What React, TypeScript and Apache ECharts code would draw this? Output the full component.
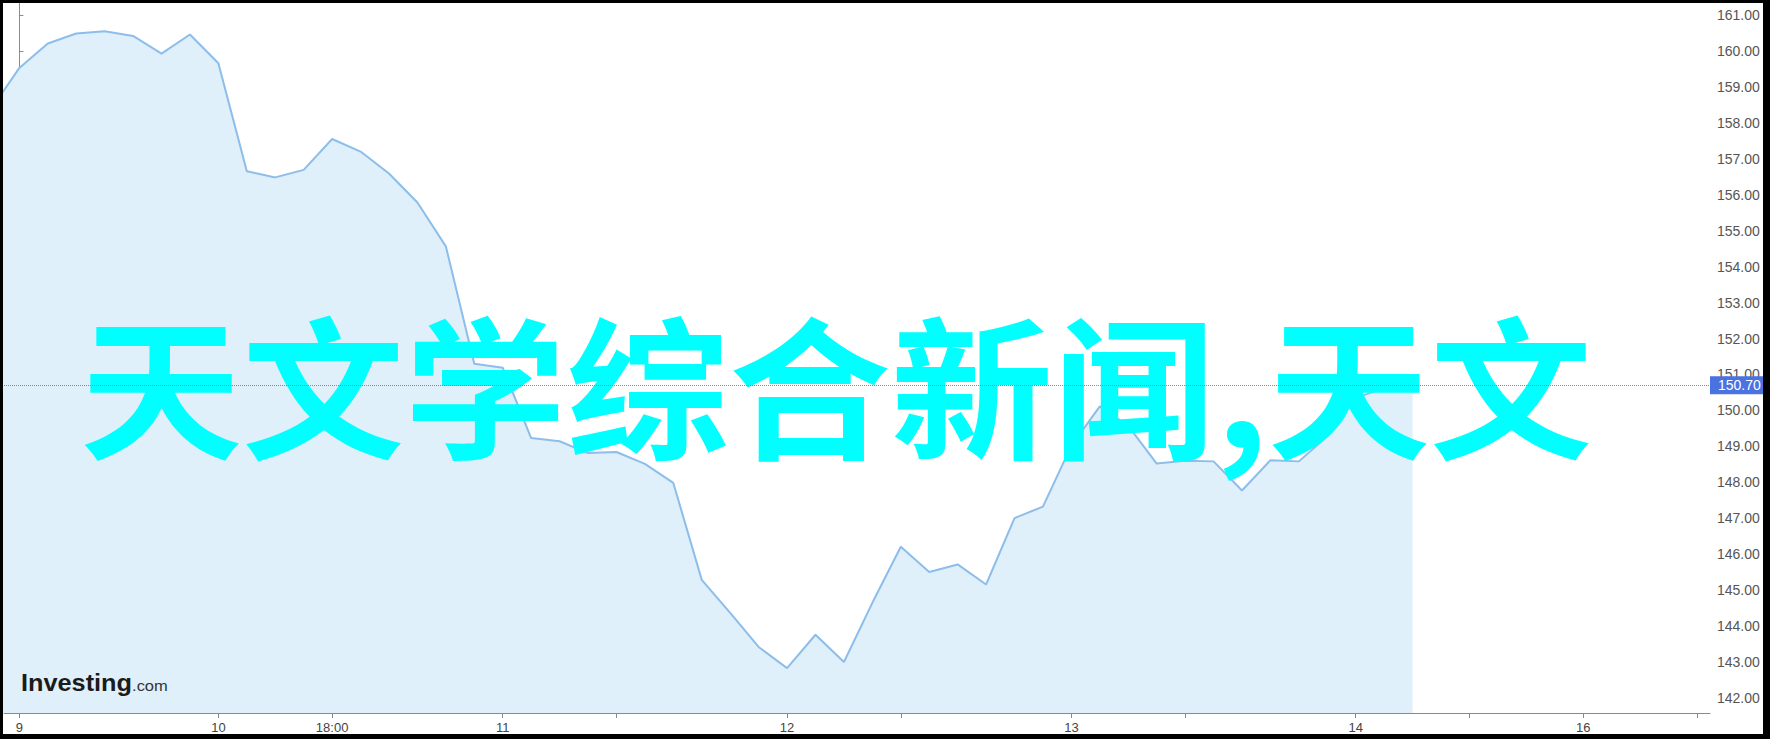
import React, { useEffect, useRef } from "react";
import * as echarts from "echarts";

// price points, one every step; index of the first entry is -1 (it lies just left of the plot)
const firstIndex = -1;
const prices = [
  158.39, 159.54, 160.22, 160.5, 160.56, 160.43, 159.94, 160.47, 159.67, 156.66,
  156.49, 156.7, 157.56, 157.21, 156.6, 155.79, 154.57, 151.3, 151.19, 149.23,
  149.14, 148.81, 148.84, 148.51, 147.98, 145.28, 144.36, 143.41, 142.82, 143.75,
  142.99, 144.64, 146.2, 145.5, 145.71, 145.15, 147.0, 147.32, 149.02, 150.11,
  149.57, 148.52, 148.6, 148.58, 147.77, 148.61, 148.58, 149.28, 150.35, 150.62,
  150.7,
];
const lastPrice = 150.7;

// x axis ticks (in step indices) and labelled ticks
const tickIndices = [0, 7, 11, 17, 21, 27, 31, 37, 41, 47, 51, 55, 59];
const labelIndices = [0, 7, 11, 17, 27, 37, 47, 55];
const labelTexts = ["9", "10", "18:00", "11", "12", "13", "14", "16"];

// y axis ticks
const yTicks = [142, 143, 144, 145, 146, 147, 148, 149, 150, 151, 152, 153, 154, 155, 156, 157, 158, 159, 160, 161];

const overlayText = "天文学综合新闻,天文";

export default function App() {
  const ref = useRef<HTMLDivElement>(null);
  useEffect(() => {
    if (!ref.current) return;
    const chart = echarts.init(ref.current, null, { renderer: "svg" });
    const data = prices.map((v, k) => [k + firstIndex, v]);
    const labelMap: Record<number, string> = {};
    labelIndices.forEach((i, k) => (labelMap[i] = labelTexts[k]));
    chart.setOption({
      animation: false,
      backgroundColor: "#ffffff",
      grid: { left: 4, right: 60, top: 3, bottom: 26, containLabel: false },
      xAxis: {
        type: "value",
        min: -0.54,
        max: 59.46,
        axisLine: { show: true, lineStyle: { color: "#8a8a8a", width: 1 } },
        axisTick: {
          show: true,
          inside: false,
          length: 5,
          customValues: tickIndices,
          lineStyle: { color: "#8a8a8a" },
        },
        axisLabel: {
          show: true,
          customValues: labelIndices,
          formatter: (v: number) => labelMap[Math.round(v)] ?? "",
          color: "#444",
          fontSize: 13,
          fontFamily: "Liberation Sans, Arial, sans-serif",
          margin: 8,
        },
        splitLine: { show: false },
      },
      yAxis: {
        type: "value",
        position: "right",
        min: 141.571,
        max: 161.348,
        axisLine: { show: true, lineStyle: { color: "#8a8a8a", width: 1 } },
        axisTick: {
          show: true,
          inside: false,
          length: 4,
          customValues: yTicks,
          lineStyle: { color: "#8a8a8a" },
        },
        axisLabel: {
          show: true,
          customValues: yTicks,
          formatter: (v: number) => v.toFixed(2),
          color: "#555",
          fontSize: 14,
          fontFamily: "Liberation Sans, Arial, sans-serif",
          margin: 7,
        },
        splitLine: { show: false },
      },
      graphic: [
        {
          type: "text",
          z: 3,
          x: 80,
          y: 305,
          scaleX: 1.06,
          style: {
            text: overlayText,
            fill: "#00ffff",
            align: "left",
            verticalAlign: "top",
            font: "bold 153px 'Noto Sans CJK SC', sans-serif",
          },
        },
        {
          type: "text",
          z: 3,
          x: 21,
          y: 683,
          scaleX: 1.1,
          style: {
            text: "{a|Investing}{b|.com}",
            verticalAlign: "middle",
            rich: {
              a: { font: "bold 23px 'Liberation Sans', Arial, sans-serif", fill: "#1b1b1b" },
              b: { font: "15px 'Liberation Sans', Arial, sans-serif", fill: "#333", padding: [5, 0, 0, 0] },
            },
          },
        },
        { type: "rect", z: 100, shape: { x: 0, y: 0, width: 1770, height: 3 }, style: { fill: "#000" } },
        { type: "rect", z: 100, shape: { x: 0, y: 0, width: 3, height: 739 }, style: { fill: "#000" } },
        { type: "rect", z: 100, shape: { x: 1763, y: 0, width: 7, height: 739 }, style: { fill: "#000" } },
        { type: "rect", z: 100, shape: { x: 0, y: 734, width: 1770, height: 5 }, style: { fill: "#000" } },
      ],
      series: [
        {
          type: "line",
          z: 2,
          data,
          symbol: "none",
          clip: true,
          lineStyle: { color: "#8cbdeb", width: 2 },
          areaStyle: { color: "#e0f0fa", opacity: 1, origin: "start" },
        },
        {
          type: "line",
          z: 4,
          data: [],
          symbol: "none",
          markLine: {
            silent: true,
            symbol: ["none", "none"],
            lineStyle: { type: "dotted", color: "#6f86e0", width: 1 },
            label: {
              show: true,
              position: "end",
              formatter: () => lastPrice.toFixed(2),
              color: "#ffffff",
              backgroundColor: "#4a72e0",
              fontSize: 14,
              fontFamily: "Liberation Sans, Arial, sans-serif",
              padding: [2, 6, 2, 8],
              distance: 0,
            },
            data: [{ yAxis: lastPrice }],
          },
        },
      ],
    });
    return () => chart.dispose();
  }, []);
  return (
    <div
      ref={ref}
      style={{ position: "fixed", left: 0, top: 0, width: 1770, height: 739 }}
    />
  );
}
